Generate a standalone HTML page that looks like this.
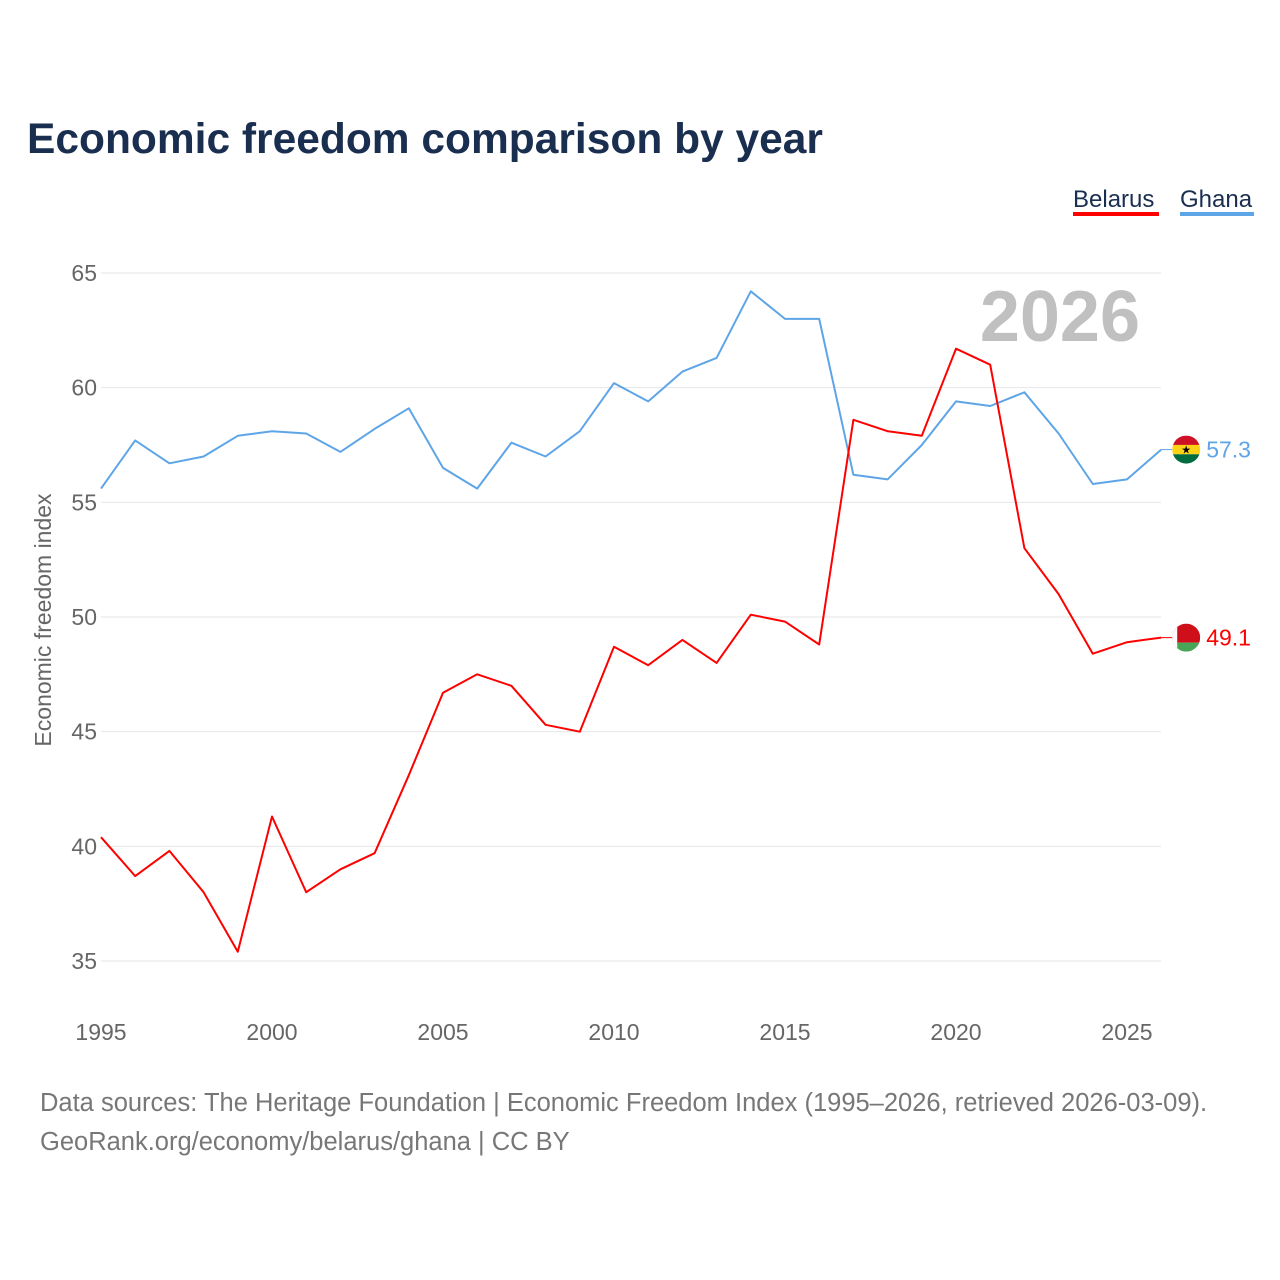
<!DOCTYPE html>
<html><head><meta charset="utf-8">
<style>
body{margin:0;background:#fff;font-family:"Liberation Sans",sans-serif;}
#wrap{position:relative;width:1280px;height:1280px;overflow:hidden;}
</style></head>
<body>
<div id="wrap">
<svg id="chart" width="1280" height="1280">
  <text x="27" y="153" font-size="42.5" font-weight="bold" fill="#1a2e4f">Economic freedom comparison by year</text>
  <g>
    <g>
      <text x="1073" y="207" font-size="24" fill="#1a2e4f">Belarus</text>
      <rect x="1073" y="212" width="86" height="4" fill="#ff0000"/>
    </g>
    <g>
      <text x="1180" y="207" font-size="24" fill="#1a2e4f">Ghana</text>
      <rect x="1180" y="212" width="74" height="4" fill="#5ea5e8"/>
    </g>
  </g>
  <text x="1140" y="341" font-size="72" font-weight="bold" fill="#c0c0c0" text-anchor="end">2026</text>
  <text transform="translate(51,620) rotate(-90)" font-size="23" fill="#666" text-anchor="middle">Economic freedom index</text>
  <g id="grid"></g>
  <g id="series"></g>
  <text x="40" y="1111" font-size="25.5" fill="#777">Data sources: The Heritage Foundation | Economic Freedom Index (1995–2026, retrieved 2026-03-09).</text>
  <text x="40" y="1150" font-size="25.5" fill="#777">GeoRank.org/economy/belarus/ghana | CC BY</text>
</svg>
</div>
<script>
const years = [1995,1996,1997,1998,1999,2000,2001,2002,2003,2004,2005,2006,2007,2008,2009,2010,2011,2012,2013,2014,2015,2016,2017,2018,2019,2020,2021,2022,2023,2024,2025,2026];
const ghanaValues = [55.6,57.7,56.7,57.0,57.9,58.1,58.0,57.2,58.2,59.1,56.5,55.6,57.6,57.0,58.1,60.2,59.4,60.7,61.3,64.2,63.0,63.0,56.2,56.0,57.5,59.4,59.2,59.8,58.0,55.8,56.0,57.3];
const belarusValues = [40.4,38.7,39.8,38.0,35.4,41.3,38.0,39.0,39.7,43.1,46.7,47.5,47.0,45.3,45.0,48.7,47.9,49.0,48.0,50.1,49.8,48.8,58.6,58.1,57.9,61.7,61.0,53.0,51.0,48.4,48.9,49.1];
const yTicks = [35,40,45,50,55,60,65];
const xTicks = [1995,2000,2005,2010,2015,2020,2025];

const NS = "http://www.w3.org/2000/svg";
const xS = y => 101 + (y - 1995) * (1127 - 101) / 30;
const yS = v => 961 - (v - 35) * (961 - 273) / 30;
function mk(tag, attrs, parent){const e=document.createElementNS(NS,tag);for(const k in attrs)e.setAttribute(k,attrs[k]);parent.appendChild(e);return e;}
const grid = document.getElementById('grid');
yTicks.forEach(t=>{
  const l = mk('line',{x1:101,x2:1161,y1:yS(t),y2:yS(t),stroke:'#e6e6e6','stroke-width':1},grid);
  
  
  const tx = mk('text',{x:97,y:yS(t)+8,'font-size':23,fill:'#666','text-anchor':'end'},grid);
  tx.textContent = t;
  
  
});
xTicks.forEach(t=>{
  const tx = mk('text',{x:xS(t),y:1040,'font-size':23,fill:'#666','text-anchor':'middle'},grid);
  tx.textContent = t;
  
  
});
const ser = document.getElementById('series');
function line(vals,color,name){
  const d = vals.map((v,i)=>(i?'L':'M')+xS(years[i]).toFixed(1)+','+yS(v).toFixed(1)).join(' ');
  const p = mk('path',{d:d,fill:'none',stroke:color,'stroke-width':2,'stroke-linejoin':'round'},ser);
  
  
}
line(ghanaValues,'#5ea5e8','ghana-line');
line(belarusValues,'#ff0000','belarus-line');
function endLabel(vals,color,name,flag){
  const v = vals[vals.length-1], y = yS(v), x = xS(2026)+25;
  const g = mk('g',{},ser);
  
  
  mk('line',{x1:xS(2026),x2:x-14,y1:y,y2:y,stroke:color,'stroke-width':1},g);
  const cp = mk('clipPath',{id:name+'-clip'},g);
  mk('circle',{cx:x,cy:y,r:14},cp);
  const fg = mk('g',{'clip-path':'url(#'+name+'-clip)'},g);
  if(flag==='gh'){
    mk('rect',{x:x-14,y:y-14,width:28,height:9.4,fill:'#ce1126'},fg);
    mk('rect',{x:x-14,y:y-4.7,width:28,height:9.4,fill:'#fcd116'},fg);
    mk('rect',{x:x-14,y:y+4.7,width:28,height:9.4,fill:'#006b3f'},fg);
    const s = mk('text',{x:x,y:y+4,'font-size':11,fill:'#000','text-anchor':'middle'},fg); s.textContent='★';
  } else {
    mk('rect',{x:x-14,y:y-14,width:28,height:19,fill:'#cf101a'},fg);
    mk('rect',{x:x-14,y:y+5,width:28,height:9,fill:'#4aa657'},fg);
    mk('rect',{x:x-14,y:y-14,width:5,height:28,fill:'#fff'},fg);
  }
  const t = mk('text',{x:x+20,y:y+8,'font-size':23,fill:color},g);
  t.textContent = v.toFixed(1);
}
endLabel(ghanaValues,'#5ea5e8','ghana-end-label','gh');
endLabel(belarusValues,'#ff0000','belarus-end-label','by');
</script>
</body></html>
